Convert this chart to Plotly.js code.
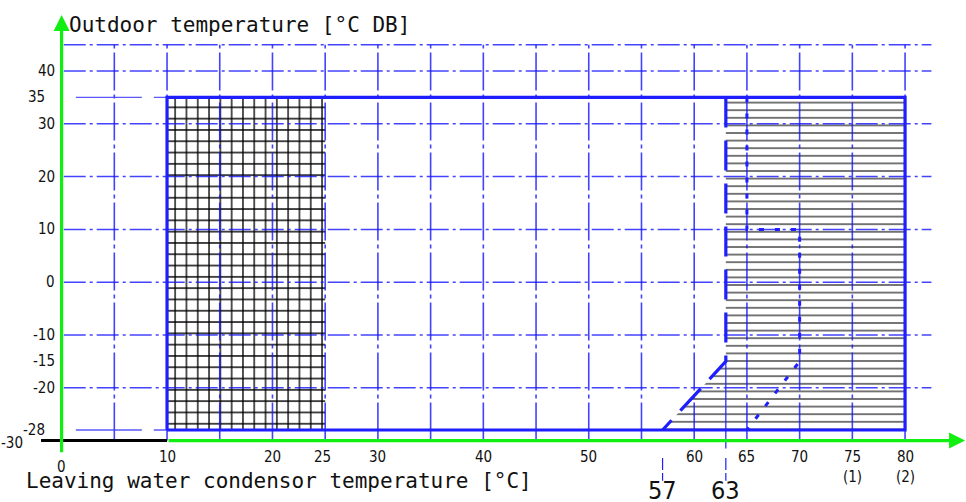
<!DOCTYPE html>
<html><head><meta charset="utf-8">
<script src="https://cdn.plot.ly/plotly-3.0.1.min.js"></script>
<style>html,body{margin:0;padding:0;background:#fff}#chart{width:966px;height:502px}</style>
</head><body><div id="chart"></div>
<script>
// ---------------- data ----------------
const xTickVals = [10, 20, 25, 30, 40, 50, 60, 65, 70, 75, 80];
const xTickText = ['10', '20', '25', '30', '40', '50', '60', '65', '70', '75<br>(1)', '80<br>(2)'];
const yTickVals = [40, 35, 30, 20, 10, 0, -10, -15, -20, -28, -30];
const yTickText = ['40', '35', '30', '20', '10', '0', '-10', '-15', '-20', '-28', '-30'];
const gridXVals = [5, 10, 15, 20, 25, 30, 35, 40, 45, 50, 55, 60, 65, 70, 75, 80];
const gridYVals = [45, 40, 30, 20, 10, 0, -10, -20];
// operating envelope (leaving water temp x, outdoor temp y)
const envelopeX = [10, 80, 80, 10, 10];
const envelopeY = [-28, -28, 35, 35, -28];
// cross-hatched zone (10..25 °C water)
const crossHatchX = [10, 25, 25, 10, 10];
const crossHatchY = [-28, -28, 35, 35, -28];
// horizontally hatched zone (above 63 °C / 57 °C at -28)
const hatchX = [57, 63, 63, 80, 80, 57];
const hatchY = [-28, -15, 35, 35, -28, -28];
// boundary of hatched zone
const limit63X = [63, 63, 57];
const limit63Y = [35, -15, -28];
// dotted limit line
const limit65X = [65, 65, 70, 70, 65];
const limit65Y = [35, 10, 10, -15, -28];
// extension lines of the envelope rows
const extRowsY = [35, -28];
const extFromX = 1.35;
// marked water temperatures
const markerVals = [57, 63];
const markerText = ['57', '63'];
// axis origin
const axisX0 = 0, axisY0 = -30;
const axisXEnd = 85.69, axisYEnd = 50.6, axisYStart = -32.5;
const baseBlackFromX = -1.95;

// ---------------- styling / layout ----------------
const BLUE = 'rgb(30,30,255)';
const GRIDBLUE = 'rgba(20,20,255,0.8)';
const EXTBLUE = 'rgba(60,60,255,0.85)';
const GREEN = '#11ee11';
const tickFont = {family: '"Liberation Sans Narrow", "Arial Narrow", "DejaVu Sans Condensed", sans-serif', size: 15, color: '#111'};
const monoFont = {family: '"DejaVu Sans Mono", monospace', size: 21, color: '#111'};
const yLabelShift = {'35': -15, '-28': -15, '-30': -37};

const traces = [];
// hatches
traces.push({x: crossHatchX, y: crossHatchY, mode: 'lines', line: {width: 0}, fill: 'toself',
  fillcolor: 'rgba(0,0,0,0)',
  fillpattern: {shape: '+', size: 11.3, solidity: 0.22, fgcolor: '#000', bgcolor: 'rgba(0,0,0,0)'},
  hoverinfo: 'skip'});
traces.push({x: hatchX, y: hatchY, mode: 'lines', line: {width: 0}, fill: 'toself',
  fillcolor: 'rgba(0,0,0,0)',
  fillpattern: {shape: '-', size: 7.6, solidity: 0.15, fgcolor: '#111', bgcolor: 'rgba(0,0,0,0)'},
  hoverinfo: 'skip'});

// grid - vertical
const gvx = [], gvy = [];
gridXVals.forEach(v => { gvx.push(v, v, null); gvy.push(axisY0, 45, null); });
traces.push({x: gvx, y: gvy, mode: 'lines', line: {color: GRIDBLUE, width: 1.6, dash: '38px,4px,4px,4px'}, hoverinfo: 'skip'});
// grid - horizontal
const ghx = [], ghy = [];
gridYVals.forEach(v => { ghx.push(0.2, 82.5, null); ghy.push(v, v, null); });
traces.push({x: ghx, y: ghy, mode: 'lines', line: {color: GRIDBLUE, width: 1.5, dash: '22px,4px,3px,4px'}, hoverinfo: 'skip'});
// extension rows
const ex = [], ey = [];
extRowsY.forEach(v => { ex.push(extFromX, envelopeX[0], null); ey.push(v, v, null); });
traces.push({x: ex, y: ey, mode: 'lines', line: {color: EXTBLUE, width: 1.3, dash: '66px,12px'}, hoverinfo: 'skip'});

// envelope
traces.push({x: envelopeX, y: envelopeY, mode: 'lines', line: {color: BLUE, width: 3.2}, hoverinfo: 'skip'});
// 63 boundary
traces.push({x: limit63X, y: limit63Y, mode: 'lines', line: {color: BLUE, width: 3.2, dash: '30px,13px'}, hoverinfo: 'skip'});
// thin 63 line down to axis
traces.push({x: [limit63X[1], limit63X[1]], y: [limit63Y[1], axisY0 - 1.5], mode: 'lines', line: {color: BLUE, width: 1.2}, hoverinfo: 'skip'});
// 65 dotted limit
traces.push({x: limit65X, y: limit65Y, mode: 'lines', line: {color: BLUE, width: 3, dash: '5px,11px'}, hoverinfo: 'skip'});
// marker ticks under axis
const mx = [], my = [];
markerVals.forEach(v => { mx.push(v, v, null); my.push(-33.3, -37.6, null); });
traces.push({x: mx, y: my, mode: 'lines', line: {color: BLUE, width: 1.2, dash: '12px,3px'}, hoverinfo: 'skip'});

// black base line
traces.push({x: [baseBlackFromX, envelopeX[0]], y: [axisY0, axisY0], mode: 'lines', line: {color: '#000', width: 3}, hoverinfo: 'skip'});

const annotations = [];
// axis arrows
annotations.push({x: axisXEnd, y: axisY0, ax: envelopeX[0], ay: axisY0, xref: 'x', yref: 'y', axref: 'x', ayref: 'y',
  text: '', showarrow: true, arrowhead: 2, arrowsize: 1, arrowwidth: 3.2, arrowcolor: GREEN, standoff: 0});
annotations.push({x: axisX0, y: axisYEnd, ax: axisX0, ay: axisYStart, xref: 'x', yref: 'y', axref: 'x', ayref: 'y',
  text: '', showarrow: true, arrowhead: 2, arrowsize: 1, arrowwidth: 3.2, arrowcolor: GREEN, standoff: 0});

// y tick labels
yTickVals.forEach((v, i) => {
  annotations.push({x: axisX0, y: v, xref: 'x', yref: 'y', text: yTickText[i], showarrow: false,
    xanchor: 'right', yanchor: 'middle', xshift: (yLabelShift[String(v)] !== undefined ? yLabelShift[String(v)] : -5),
    yshift: v === -30 ? -2 : 0, font: tickFont});
});
// x tick labels
xTickVals.forEach((v, i) => {
  annotations.push({x: v, y: axisY0, xref: 'x', yref: 'y', text: xTickText[i], showarrow: false,
    xanchor: 'center', yanchor: 'top', yshift: -5, xshift: v === 25 ? -3 : 0, font: tickFont});
});
annotations.push({x: axisX0, y: axisY0, xref: 'x', yref: 'y', text: '0', showarrow: false,
  xanchor: 'center', yanchor: 'top', yshift: -15, font: tickFont});
// marker labels
markerVals.forEach((v, i) => {
  annotations.push({x: v, y: 0.022, xref: 'x', yref: 'paper', text: markerText[i], showarrow: false,
    xanchor: 'center', yanchor: 'middle', font: Object.assign({}, tickFont, {size: 25})});
});
// titles
annotations.push({x: 67 / 966, y: 1 - 25 / 502, xref: 'paper', yref: 'paper', text: 'Outdoor temperature [°C DB]',
  showarrow: false, xanchor: 'left', yanchor: 'middle', font: monoFont});
annotations.push({x: 24 / 966, y: 1 - 481 / 502, xref: 'paper', yref: 'paper', text: 'Leaving water condensor temperature [°C]',
  showarrow: false, xanchor: 'left', yanchor: 'middle', font: monoFont});

const layout = {
  width: 966, height: 502,
  margin: {l: 0, r: 0, t: 0, b: 0, pad: 0},
  paper_bgcolor: '#fff', plot_bgcolor: '#fff',
  showlegend: false,
  xaxis: {range: [-5.843, 85.78], visible: false, fixedrange: true},
  yaxis: {range: [-41.64, 53.46], visible: false, fixedrange: true},
  annotations: annotations
};
Plotly.newPlot('chart', traces, layout, {displayModeBar: false, staticPlot: true});
</script>
</body></html>
